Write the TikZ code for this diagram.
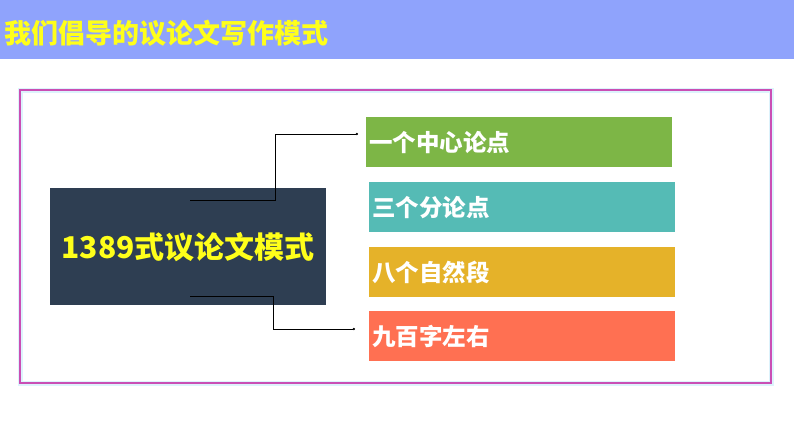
\documentclass[tikz,border=0pt]{standalone}
\usepackage{fontspec}
\newfontfamily\cjk{Noto Sans CJK SC}
\usetikzlibrary{arrows.meta}
\definecolor{banner}{HTML}{8FA3FC}
\definecolor{ttl}{HTML}{FFFF1A}
\definecolor{framec}{HTML}{CA4EB4}
\definecolor{glow}{HTML}{DDF3FC}
\definecolor{darkbox}{HTML}{2E3E52}
\definecolor{cgreen}{HTML}{7DB646}
\definecolor{cteal}{HTML}{55BBB5}
\definecolor{cgold}{HTML}{E5B229}
\definecolor{corange}{HTML}{FF7052}
\tikzset{
  item/.style={minimum width=306pt, minimum height=50pt, inner sep=0pt, anchor=north west,
    text=white, font=\cjk\bfseries\fontsize{23.5}{23.5}\selectfont, align=left, text width=302pt},
  conn/.style={draw=black, line width=0.9pt, -{Circle[length=2.2pt]}},
}
\begin{document}
\begin{tikzpicture}[x=1pt,y=-1pt]
\useasboundingbox (0,0) rectangle (794,447);
\fill[white] (0,0) rectangle (794,447);
% banner
\fill[banner] (0,0) rectangle (794,59);
\node[anchor=west, text=ttl, font=\cjk\bfseries\fontsize{27}{27}\selectfont, inner sep=0pt] (title) at (4,33) {我们倡导的议论文写作模式};
% frame
\draw[glow, line width=5pt] (20,90) rectangle (771,383);
\draw[framec, line width=2pt] (20,90) rectangle (771,383);
% main box
\node[fill=darkbox, minimum width=276pt, minimum height=117pt, inner sep=0pt, anchor=north west,
  text=ttl, font=\cjk\bfseries\fontsize{30}{30}\selectfont] (main) at (50,188) {1389式议论文模式};
% items
\node[item, fill=cgreen] (i1) at (366,117) {\hspace*{1pt}一个中心论点};
\node[item, fill=cteal] (i2) at (369,182) {\hspace*{1pt}三个分论点};
\node[item, fill=cgold] (i3) at (369,247) {\hspace*{1pt}八个自然段};
\node[item, fill=corange] (i4) at (369,311) {\hspace*{1pt}九百字左右};
% connectors
\coordinate (s1) at (190,200);
\coordinate (e1) at (358,134);
\coordinate (s2) at (190,296);
\coordinate (e2) at (355,329);
\draw[conn] (s1) -- (275,200) |- (e1);
\draw[conn] (s2) -- (273,296) |- (e2);
\end{tikzpicture}
\end{document}
